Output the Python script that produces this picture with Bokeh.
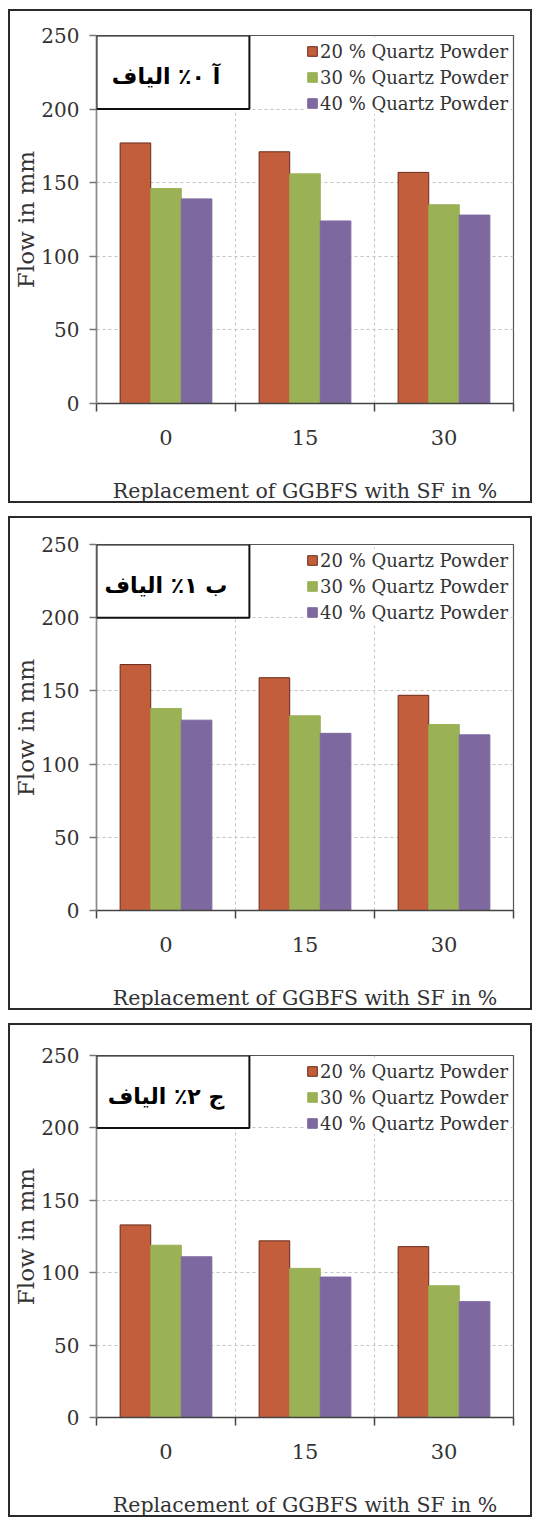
from bokeh.plotting import figure
from bokeh.layouts import column
from bokeh.models import FixedTicker, BoxAnnotation, Label, Legend, LegendItem, ColumnDataSource, Title
from bokeh.embed import file_html
from bokeh.resources import INLINE

# ---------------- data ----------------
categories = ["0", "15", "30"]
series_names = ["20 % Quartz Powder", "30 % Quartz Powder", "40 % Quartz Powder"]
panel_titles = ["آ ۰٪ الیاف", "ب ۱٪ الیاف", "ج ۲٪ الیاف"]
x_label = "Replacement of GGBFS with SF in %"
y_label = "Flow in mm"
y_ticks = [0, 50, 100, 150, 200, 250]

p1_q20 = [177, 171, 157]
p1_q30 = [146, 156, 135]
p1_q40 = [139, 124, 128]

p2_q20 = [168, 159, 147]
p2_q30 = [138, 133, 127]
p2_q40 = [130, 121, 120]

p3_q20 = [133, 122, 118]
p3_q30 = [119, 103, 91]
p3_q40 = [111, 97, 80]

colors = ["#C25E3C", "#9BB155", "#7D69A0"]
edge_colors = ["#6a2a18", "#9BB155", "#7D69A0"]

SERIF = "DejaVu Serif"
TXT = "#333333"
W, H = 524, 494


def make_panel(title, series, left, right, top, fh):
    inner_w, inner_h = W - 4, H - 4
    p = figure(width=W, height=H, x_range=(-0.5, 2.5), y_range=(0, 250),
               output_backend="svg", toolbar_location=None,
               min_border_left=left, min_border_right=right,
               min_border_top=top, min_border_bottom=inner_h - top - fh,
               styles={"border": "2px solid #2a2a2a"})
    p.background_fill_color = "white"
    p.border_fill_color = "white"
    p.outline_line_color = "#555555"
    p.outline_line_width = 1.2

    # grid
    p.ygrid.ticker = FixedTicker(ticks=y_ticks[1:-1])
    p.xgrid.ticker = FixedTicker(ticks=[0.5, 1.5])
    for g in (p.xgrid, p.ygrid):
        g.grid_line_color = "#c4c4c4"
        g.grid_line_dash = "3 3"
        g.grid_line_width = 1

    items = []
    n = len(series)
    bw = 0.22
    for j, vals in enumerate(series):
        off = (j - (n - 1) / 2) * bw
        src = ColumnDataSource(dict(x=[i + off for i in range(len(categories))], top=vals))
        r = p.vbar(x="x", top="top", width=bw, bottom=0, source=src,
                   fill_color=colors[j], line_color=edge_colors[j], line_width=1)
        items.append(LegendItem(label=series_names[j], renderers=[r]))

    # x axis
    xa = p.xaxis[0]
    xa.ticker = FixedTicker(ticks=list(range(len(categories))),
                            minor_ticks=[i - 0.5 for i in range(len(categories) + 1)])
    xa.major_label_overrides = {i: c for i, c in enumerate(categories)}
    xa.major_tick_out = 0
    xa.major_tick_in = 0
    xa.minor_tick_out = 8
    xa.minor_tick_in = 0
    xa.minor_tick_line_color = "#444444"
    xa.minor_tick_line_width = 1.5
    xa.axis_line_color = "#444444"
    xa.axis_line_width = 1.5
    xa.major_label_standoff = 18
    xa.major_label_text_font = SERIF
    xa.major_label_text_font_size = "21px"
    xa.major_label_text_color = TXT
    xa.axis_label = x_label
    xa.axis_label_text_font = SERIF
    xa.axis_label_text_font_size = "20.5px"
    xa.axis_label_text_font_style = "normal"
    xa.axis_label_text_color = TXT
    xa.axis_label_standoff = 31

    # y axis
    ya = p.yaxis[0]
    ya.ticker = FixedTicker(ticks=y_ticks)
    ya.major_tick_out = 7
    ya.major_tick_in = 0
    ya.minor_tick_out = 0
    ya.minor_tick_in = 0
    ya.major_tick_line_color = "#777777"
    ya.major_tick_line_width = 1.5
    ya.axis_line_color = "#8a8a8a"
    ya.axis_line_width = 1.5
    ya.major_label_standoff = 10
    ya.major_label_text_font = SERIF
    ya.major_label_text_font_size = "20px"
    ya.major_label_text_color = TXT

    ytitle = Title(text=y_label, align="center", text_font=SERIF, text_font_size="23px",
                   text_font_style="normal", text_color=TXT, standoff=0, offset=0)
    p.add_layout(ytitle, "left")

    # title box
    box = BoxAnnotation(left=-0.5, right=0.6, bottom=200, top=250,
                        fill_color="white", fill_alpha=1.0,
                        line_color="#111111", line_alpha=1.0, line_width=2)
    p.add_layout(box)
    lab = Label(x=-0.0, y=222, text=title, text_align="center", text_baseline="middle",
                text_font="DejaVu Sans", text_font_style="bold", text_font_size="22px",
                text_color="black")
    p.add_layout(lab)

    legend = Legend(items=items, location="top_right")
    legend.margin = 5
    legend.padding = 6
    legend.spacing = 4
    legend.label_height = 22
    legend.glyph_height = 12
    legend.glyph_width = 12
    legend.label_standoff = 2
    legend.label_text_font = SERIF
    legend.label_text_font_size = "18px"
    legend.label_text_color = TXT
    legend.border_line_color = None
    legend.background_fill_color = "white"
    legend.background_fill_alpha = 1.0
    p.add_layout(legend)
    return p


p1 = make_panel(panel_titles[0], [p1_q20, p1_q30, p1_q40], 77, 18, 24, 370)
p2 = make_panel(panel_titles[1], [p2_q20, p2_q30, p2_q40], 79, 21, 26, 374)
p3 = make_panel(panel_titles[2], [p3_q20, p3_q30, p3_q40], 86, 12, 30, 377)

layout = column(p1, p2, p3, spacing=13, margin=(9, 0, 0, 8))

open("out.html", "w").write(file_html(layout, INLINE))
